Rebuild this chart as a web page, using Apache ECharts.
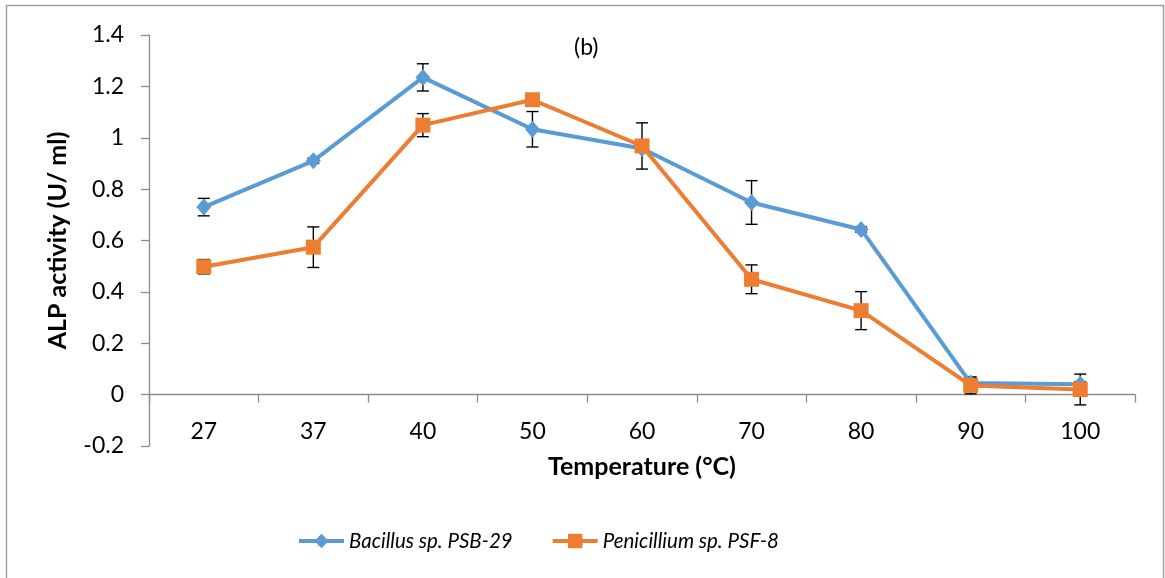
<!DOCTYPE html>
<html>
<head>
<meta charset="utf-8">
<script src="https://cdn.jsdelivr.net/npm/echarts@6/dist/echarts.min.js"></script>
<style>
  html, body { margin: 0; padding: 0; background: #fff; }
  #chart { width: 1165px; height: 578px; }
</style>
</head>
<body>
<div id="chart"></div>
<script>
// Alkaline phosphatase activity versus incubation temperature
const temperatures = ['27', '37', '40', '50', '60', '70', '80', '90', '100'];
const bacillus = [0.73, 0.91, 1.235, 1.033, 0.958, 0.748, 0.643, 0.045, 0.04];
const bacillusErr = [0.034, 0.01, 0.053, 0.069, 0.01, 0.085, 0.01, 0.02, 0.01];
const penicillium = [0.498, 0.574, 1.049, 1.148, 0.968, 0.449, 0.327, 0.036, 0.02];
const penicilliumErr = [0.028, 0.079, 0.045, 0.005, 0.09, 0.056, 0.074, 0.033, 0.06];

const FONT = 'Lato';
const BLUE = '#5B9BD5';
const ORANGE = '#ED7D31';
const AXIS_GREY = '#8c8c8c';

function errorRows(values, errs) {
  return values.map((v, i) => [i, v, errs[i]]);
}

function renderErrorBar(params, api) {
  const x = api.value(0);
  const v = api.value(1);
  const e = api.value(2);
  const top = api.coord([x, v + e]);
  const bot = api.coord([x, v - e]);
  const half = 6;
  const style = { stroke: '#000', lineWidth: 1.4 };
  return {
    type: 'group',
    children: [
      { type: 'line', shape: { x1: top[0], y1: top[1], x2: bot[0], y2: bot[1] }, style },
      { type: 'line', shape: { x1: top[0] - half, y1: top[1], x2: top[0] + half, y2: top[1] }, style },
      { type: 'line', shape: { x1: bot[0] - half, y1: bot[1], x2: bot[0] + half, y2: bot[1] }, style }
    ]
  };
}

const chart = echarts.init(document.getElementById('chart'), null, { renderer: 'canvas' });

chart.setOption({
  animation: false,
  backgroundColor: '#fff',
  textStyle: { fontFamily: FONT },
  title: {
    text: '(b)',
    left: 569,
    top: 31,
    textStyle: { fontFamily: FONT, fontSize: 23, fontWeight: 'normal', color: '#000' }
  },
  graphic: [{
    type: 'rect',
    shape: { x: 6.5, y: 5.5, width: 1157, height: 600 },
    style: { fill: 'none', stroke: '#a0a0a0', lineWidth: 1.5 },
    silent: true
  }],
  grid: { left: 149, right: 30, top: 35, bottom: 132, containLabel: false },
  legend: {
    left: 292,
    top: 526,
    itemWidth: 45,
    itemHeight: 18,
    itemGap: 38,
    lineStyle: { width: 4 },
    textStyle: { fontFamily: FONT, fontSize: 20.5, fontStyle: 'italic', color: '#000' },
    data: ['Bacillus sp. PSB-29', 'Penicillium sp. PSF-8']
  },
  xAxis: {
    type: 'category',
    data: temperatures,
    boundaryGap: true,
    name: 'Temperature (°C)',
    nameLocation: 'middle',
    nameGap: 8,
    nameTextStyle: { fontFamily: FONT, fontSize: 25, fontWeight: 'bold', color: '#000' },
    axisLine: { onZero: true, lineStyle: { color: AXIS_GREY, width: 1.3 } },
    axisTick: { show: true, length: 8, lineStyle: { color: AXIS_GREY, width: 1.3 } },
    axisLabel: { margin: -26, fontFamily: FONT, fontSize: 23, color: '#000' },
    splitLine: { show: false }
  },
  yAxis: {
    type: 'value',
    min: -0.2,
    max: 1.4,
    interval: 0.2,
    name: 'ALP activity (U/ ml)',
    nameLocation: 'middle',
    nameGap: 79,
    nameRotate: 90,
    nameTextStyle: { fontFamily: FONT, fontSize: 25, fontWeight: 'bold', color: '#000' },
    axisLine: { show: true, lineStyle: { color: AXIS_GREY, width: 1.3 } },
    axisTick: { show: true, length: 8, lineStyle: { color: AXIS_GREY, width: 1.3 } },
    axisLabel: { margin: 25, fontFamily: FONT, fontSize: 23, color: '#000' },
    splitLine: { show: false }
  },
  series: [
    {
      name: 'bacillusErr',
      type: 'custom',
      renderItem: renderErrorBar,
      data: errorRows(bacillus, bacillusErr),
      encode: { x: 0, y: 1 },
      z: 2,
      silent: true
    },
    {
      name: 'penicilliumErr',
      type: 'custom',
      renderItem: renderErrorBar,
      data: errorRows(penicillium, penicilliumErr),
      encode: { x: 0, y: 1 },
      z: 2,
      silent: true
    },
    {
      name: 'Bacillus sp. PSB-29',
      type: 'line',
      data: bacillus,
      symbol: 'diamond',
      symbolSize: [15, 17],
      z: 3,
      lineStyle: { color: BLUE, width: 4 },
      itemStyle: { color: BLUE }
    },
    {
      name: 'Penicillium sp. PSF-8',
      type: 'line',
      data: penicillium,
      symbol: 'rect',
      symbolSize: 15,
      z: 4,
      lineStyle: { color: ORANGE, width: 4 },
      itemStyle: { color: ORANGE }
    }
  ]
});
</script>
</body>
</html>
